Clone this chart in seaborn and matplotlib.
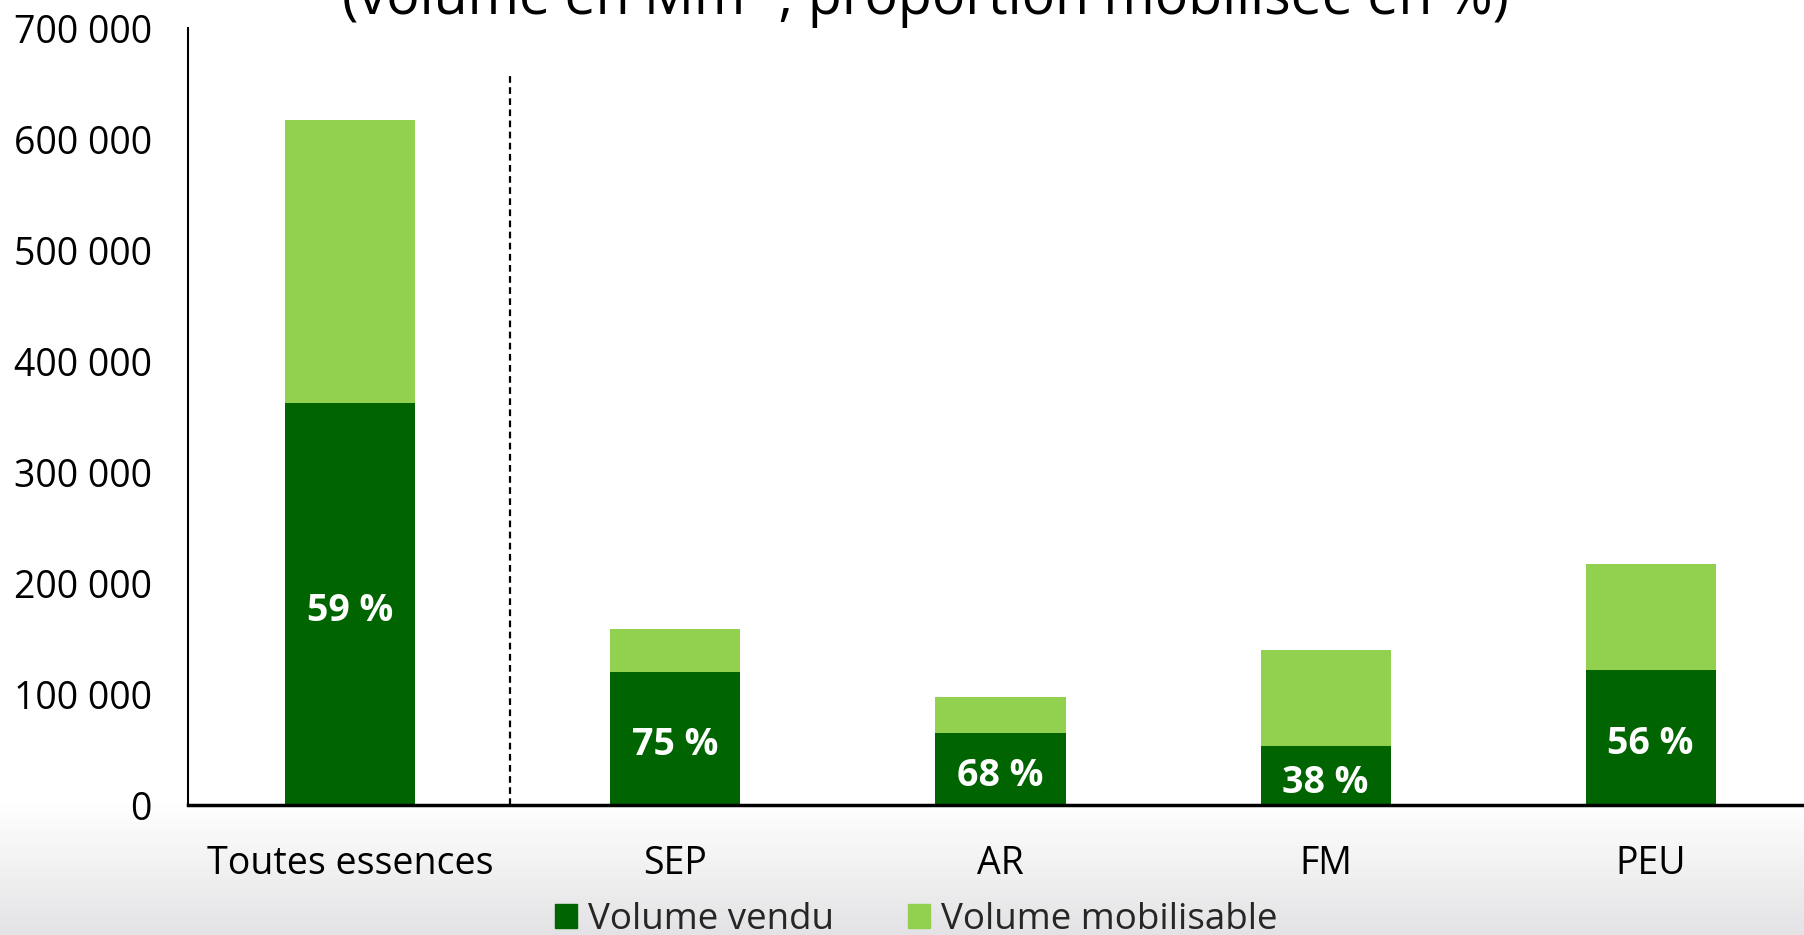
import matplotlib
matplotlib.use("Agg")
import matplotlib.pyplot as plt
import matplotlib.ticker as mticker
from matplotlib.patches import Patch
import numpy as np
import pandas as pd
import seaborn as sns

# values
categories = ["Toutes essences", "SEP", "AR", "FM", "PEU"]
volume_vendu = [362000, 120000, 65000, 53000, 122000]
volume_mobilisable = [617000, 159000, 97000, 140000, 217000]
proportion = [59, 75, 68, 38, 56]

title = "(volume en Mm³ ; proportion mobilisée en %)"

DARK = "#006400"
LIGHT = "#92D050"

sns.set_theme(style="white")
plt.rcParams["font.family"] = ["Open Sans", "DejaVu Sans"]

df = pd.DataFrame({"cat": categories, "vendu": volume_vendu,
                   "mobilisable": volume_mobilisable})

fig = plt.figure(figsize=(18.04, 9.35), dpi=100)

# light grey gradient at the bottom of the picture
bg = fig.add_axes([0, 0, 1, 0.14], zorder=-5)
grad = np.linspace(1.0, 0.0, 256).reshape(-1, 1)
bg.imshow(grad, aspect="auto", cmap=matplotlib.colors.LinearSegmentedColormap.from_list(
    "g", ["#e3e3e5", "#ffffff"]), extent=[0, 1, 0, 1], origin="upper")
bg.axis("off")

ax = fig.add_axes([0.1042, 0.139, 0.9008, 0.831])

sns.barplot(data=df, x="cat", y="mobilisable", color=LIGHT, width=0.4,
            saturation=1, linewidth=0, ax=ax)
sns.barplot(data=df, x="cat", y="vendu", color=DARK, width=0.4,
            saturation=1, linewidth=0, ax=ax)

# percentage labels in the dark part
vendu_bars = ax.containers[1]
labels = ax.bar_label(vendu_bars, labels=[f"{p} %" for p in proportion],
                      label_type="center", color="white", fontsize=27,
                      fontweight="bold")
for t in labels:
    t.xyann = (0, -5)

# dashed separator between total and species
ax.plot([0.49, 0.49], [0, 660000], color="black", linestyle=(0, (3, 2)), linewidth=1.6)

ax.set_xlim(-0.5, 4.5)
ax.set_ylim(0, 700000)
ax.yaxis.set_major_locator(mticker.MultipleLocator(100000))
ax.yaxis.set_major_formatter(mticker.FuncFormatter(lambda v, p: f"{int(v):,}".replace(",", " ")))
ax.set_xlabel("")
ax.set_ylabel("")
ax.tick_params(axis="y", length=0, pad=26, labelsize=27, labelcolor="black")
ax.tick_params(axis="x", length=0, pad=29, labelsize=27, labelcolor="black")

sns.despine(ax=ax, top=True, right=True)
ax.spines["left"].set_color("black")
ax.spines["left"].set_linewidth(1.5)
ax.spines["bottom"].set_color("black")
ax.spines["bottom"].set_linewidth(2.5)

fig.text(0.513, 0.985, title, ha="center", va="baseline", fontsize=40, color="black")

handles = [Patch(color=DARK, label="Volume vendu"),
           Patch(color=LIGHT, label="Volume mobilisable")]
fig.legend(handles=handles, loc="center", bbox_to_anchor=(0.508, 0.016), ncol=2,
           frameon=False, fontsize=26.5, handlelength=0.6, handleheight=0.6,
           handletextpad=0.3, columnspacing=2.0)

fig.savefig("out.png", dpi=100)
